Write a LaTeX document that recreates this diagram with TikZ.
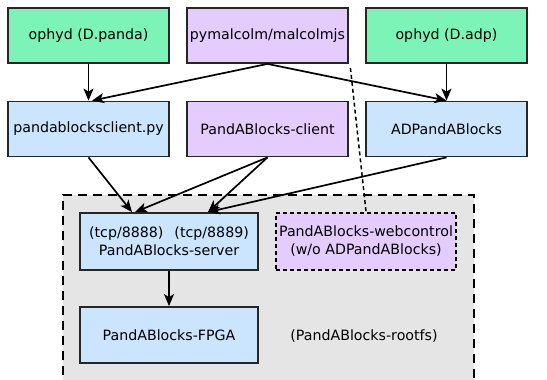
\documentclass[tikz,border=0pt]{standalone}
\usepackage{fontspec}
\setmainfont{DejaVu Sans}
\usetikzlibrary{arrows.meta,calc}
\definecolor{cgreen}{HTML}{7CF4B8}
\definecolor{cblue}{HTML}{CCE5FF}
\definecolor{cpurple}{HTML}{E5CCFF}
\definecolor{cgray}{HTML}{E5E5E5}
\begin{document}
\begin{tikzpicture}[x=1pt,y=-1pt,
  box/.style={draw=black!85,line width=1.8pt,minimum width=161pt,minimum height=55pt,inner sep=0pt,align=center,font=\fontsize{14.2}{18}\selectfont},
  gbox/.style={box,fill=cgreen},
  bbox/.style={box,fill=cblue},
  pbox/.style={box,fill=cpurple},
  arr/.style={line width=1.7pt,-{Stealth[length=12pt,width=10pt,inset=3pt]}},
  dashline/.style={line width=1.5pt,dash pattern=on 4pt off 3pt}]
\useasboundingbox (0,0) rectangle (547,380);
\fill[cgray] (63,195) rectangle (474,390);
\draw[line width=1.6pt,dash pattern=on 9pt off 6pt] (63,390) -- (63,195) -- (474,195) -- (474,390);
\node[gbox] (odp) at (88.5,35.5) {ophyd (D.panda)};
\node[pbox] (pym) at (267.5,35.5) {pymalcolm/malcolmjs};
\node[gbox] (oda) at (446.5,35.5) {ophyd (D.adp)};
\node[bbox] (pbc) at (88.5,129) {pandablocksclient.py};
\node[pbox] (pcl) at (267.5,129) {PandABlocks-client};
\node[bbox] (adp) at (446.5,129) {ADPandABlocks};
\node[bbox,minimum width=178pt,minimum height=57pt] (srv) at (169,241.5) {(tcp/8888)\hspace{11pt}(tcp/8889)\\PandABlocks-server};
\node[box,fill=cpurple,draw=black,dashline,minimum width=180pt,minimum height=57pt] (web) at (366,241.5) {PandABlocks-webcontrol\\(w/o ADPandABlocks)};
\node[bbox,minimum width=178pt,minimum height=56pt] (fpga) at (169,335) {PandABlocks-FPGA};
\node[font=\fontsize{14.2}{18}\selectfont] (rfs) at (364,336) {(PandABlocks-rootfs)};
\draw[arr] (odp.south) -- (pbc.north);
\draw[arr] (pym.south) -- ($(pbc.north)+(3.5,0)$);
\draw[arr] (pym.south) -- (adp.north);
\draw[arr] (oda.south) -- (adp.north);
\draw[arr] (pbc.south) -- ($(srv.north)+(-37,0)$);
\draw[arr] (pcl.south) -- ($(srv.north)+(-34,0)$);
\draw[arr] (pcl.south) -- ($(srv.north)+(39,0)$);
\draw[arr] (adp.south) -- ($(srv.north)+(39,0)$);
\draw[arr] (srv.south) -- (fpga.north);
\coordinate (dstart) at ($(pym.south east)+(1.5,4)$);
\draw[dashline] (dstart) -- ($(web.north)+(0,-0.9)$);
\end{tikzpicture}
\end{document}
